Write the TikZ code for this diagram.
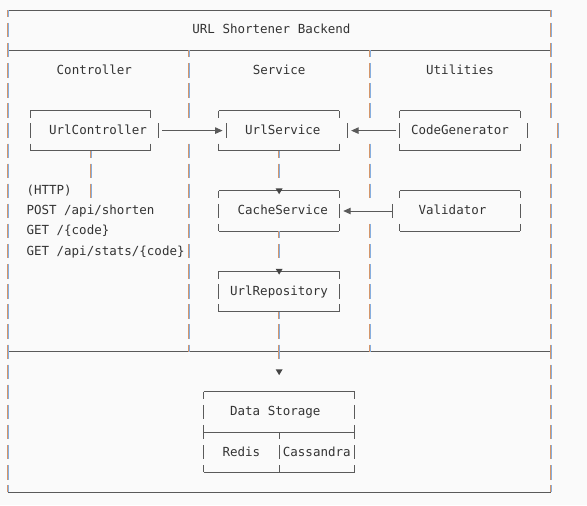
\documentclass[tikz,border=0pt]{standalone}
\usepackage{fontspec}
\newfontfamily\diagmono{DejaVu Sans Mono}
\usetikzlibrary{arrows.meta}
\definecolor{bgc}{HTML}{FAFAFA}
\definecolor{linec}{HTML}{5A5A5A}
\definecolor{textc}{HTML}{333333}
\definecolor{barA}{HTML}{D4966A}
\definecolor{barB}{HTML}{86AEDF}
\definecolor{tipc}{HTML}{444444}
\tikzset{
  hline/.style={draw=linec, line width=1pt},
  gside/.style={draw=linec, line width=1pt, dash pattern=on 14.4pt off 5.7pt},
  cbarA/.style={draw=barA, line width=1pt, dash pattern=on 14.4pt off 5.7pt},
  cbarB/.style={draw=barB, line width=1pt, dash pattern=on 14.4pt off 5.7pt},
  boxn/.style 2 args={minimum width=#1*7.54pt, minimum height=#2*20.1pt, inner sep=0pt, outer sep=0pt},
  txt/.style={anchor=base west, inner sep=0pt, outer sep=0pt, text=textc, font=\diagmono\fontsize{12.5}{15}\selectfont},
  arr/.style={draw=linec, line width=1pt, -{Triangle[length=7.5pt,width=6.5pt]}},
}
\newcommand\gseg[3]{\draw[gside, dash phase=#3] (#1) -- (#2);}
\newcommand\cseg[3]{\draw[cbarA, dash phase=#3] ([xshift=-0.5pt]#1) -- ([xshift=-0.5pt]#2);
  \draw[cbarB, dash phase=#3] ([xshift=0.5pt]#1) -- ([xshift=0.5pt]#2);}
\newcommand\gbar[2]{\gseg{#1,#2-0.358}{#1,#2+0.358}{0pt}}
\newcommand\cbar[2]{\cseg{#1,#2-0.358}{#1,#2+0.358}{0pt}}
\newcommand\downtip[1]{\fill[tipc] ([shift={(-3.5pt,2.5pt)}]#1) -- ([shift={(3.5pt,2.5pt)}]#1) -- ([shift={(0pt,-3.3pt)}]#1) -- cycle;}
\newcommand\boxlines[1]{\draw[hline] (#1.north west) -- (#1.north east); \draw[hline] (#1.south west) -- (#1.south east);}
\begin{document}
\begin{tikzpicture}[x=7.54pt, y=-20.1pt]
\path[use as bounding box, fill=bgc] (-1.0212,-0.4975) rectangle (76.83,24.627);

% ---- frame horizontals
\draw[hline] (0,0) -- (72,0);
\draw[hline] (0,2) -- (72,2);
\draw[hline] (0,17) -- (72,17);
\draw[hline] (0,24) -- (72,24);
% ---- frame verticals
\cseg{0,0}{0,24}{7.2pt}
\cseg{72,0}{72,5.358}{7.2pt}
\cseg{72,6.642}{72,24}{0pt}
\cbar{73}{6}
\cseg{24,2}{24,5.358}{7.2pt}
\cseg{24,6.642}{24,17}{0pt}
\cseg{48,2}{48,5.358}{7.2pt}
\cseg{48,6.642}{48,9.358}{0pt}
\cseg{48,10.642}{48,17}{0pt}

% ---- box nodes
\node[boxn={16}{2}] (ctrl) at (11,6) {};
\node[boxn={16}{2}] (svc) at (36,6) {};
\node[boxn={16}{2}] (gen) at (60,6) {};
\node[boxn={16}{2}] (cache) at (36,10) {};
\node[boxn={16}{2}] (val) at (60,10) {};
\node[boxn={16}{2}] (repo) at (36,14) {};
\node[boxn={20}{4}] (store) at (36,21) {};
\boxlines{ctrl}\boxlines{svc}\boxlines{gen}
\boxlines{cache}\boxlines{val}\boxlines{repo}\boxlines{store}
\draw[hline] (26,21) -- (46,21);

% ---- box sides
% ctrl
\gseg{3,5}{3,7}{7.2pt}
\gseg{19,5}{19,5.358}{7.2pt}\gseg{19,6.642}{19,7}{0pt}\gbar{20}{6}
% svc
\gseg{28,5}{28,5.358}{7.2pt}\gseg{28,6.642}{28,7}{0pt}\gbar{29}{6}
\gseg{44,5}{44,5.358}{7.2pt}\gseg{44,6.642}{44,7}{0pt}\gbar{45}{6}
% gen
\gseg{52,5}{52,7}{7.2pt}
\gseg{68,5}{68,5.358}{7.2pt}\gseg{68,6.642}{68,7}{0pt}\gbar{69}{6}
% cache
\gseg{28,9}{28,11}{7.2pt}\gseg{44,9}{44,11}{7.2pt}
% val
\gseg{52,9}{52,9.358}{7.2pt}\gseg{52,10.642}{52,11}{0pt}\gbar{51}{10}
\gseg{68,9}{68,11}{7.2pt}
% repo
\gseg{28,13}{28,15}{7.2pt}\gseg{44,13}{44,15}{7.2pt}
% store
\gseg{26,19}{26,23}{7.2pt}\gseg{46,19}{46,23}{7.2pt}
\gseg{36,21}{36,23}{7.2pt}

% ---- texts
\node[txt] (title) at (24.5,1.19) {URL Shortener Backend};
\node[txt] (hctrl) at (6.5,3.19) {Controller};
\node[txt] (hsvc) at (32.5,3.19) {Service};
\node[txt] (hutil) at (55.5,3.19) {Utilities};
\node[txt] (tctrl) at (5.5,6.19) {UrlController};
\node[txt] (tsvc) at (31.5,6.19) {UrlService};
\node[txt] (tgen) at (53.5,6.19) {CodeGenerator};
\node[txt] (http) at (2.5,9.19) {(HTTP)};
\node[txt] (post) at (2.5,10.19) {POST /api/shorten};
\node[txt] (get1) at (2.5,11.19) {GET /\{code\}};
\node[txt] (get2) at (2.5,12.19) {GET /api/stats/\{code\}};
\node[txt] (tcache) at (30.5,10.19) {CacheService};
\node[txt] (tval) at (54.5,10.19) {Validator};
\node[txt] (trepo) at (29.5,14.19) {UrlRepository};
\node[txt] (tstore) at (29.5,20.19) {Data Storage};
\node[txt] (tredis) at (28.5,22.19) {Redis};
\node[txt] (tcass) at (36.5,22.19) {Cassandra};

% ---- connectors
\coordinate (httpend) at (11,9.358);
\coordinate (svcdown) at (36,8.358);
\coordinate (cachedown) at (36,12.358);
\coordinate (repodown) at (36,17.358);
\coordinate (storein) at (36,18);
\cseg{ctrl.south}{httpend}{7.2pt}
\cseg{svc.south}{svcdown}{7.2pt}
\cseg{cache.south}{cachedown}{7.2pt}
\cseg{repo.south}{repodown}{7.2pt}
\downtip{cache.north}
\downtip{repo.north}
\downtip{storein}
\draw[arr] ([xshift=1.5*7.54pt]ctrl.east) -- ([xshift=0.5*7.54pt]svc.west);
\draw[arr] ([xshift=-0.5*7.54pt]gen.west) -- ([xshift=1.55*7.54pt]svc.east);
\draw[arr] ([xshift=-1*7.54pt]val.west) -- ([xshift=0.5*7.54pt]cache.east);
\end{tikzpicture}
\end{document}
